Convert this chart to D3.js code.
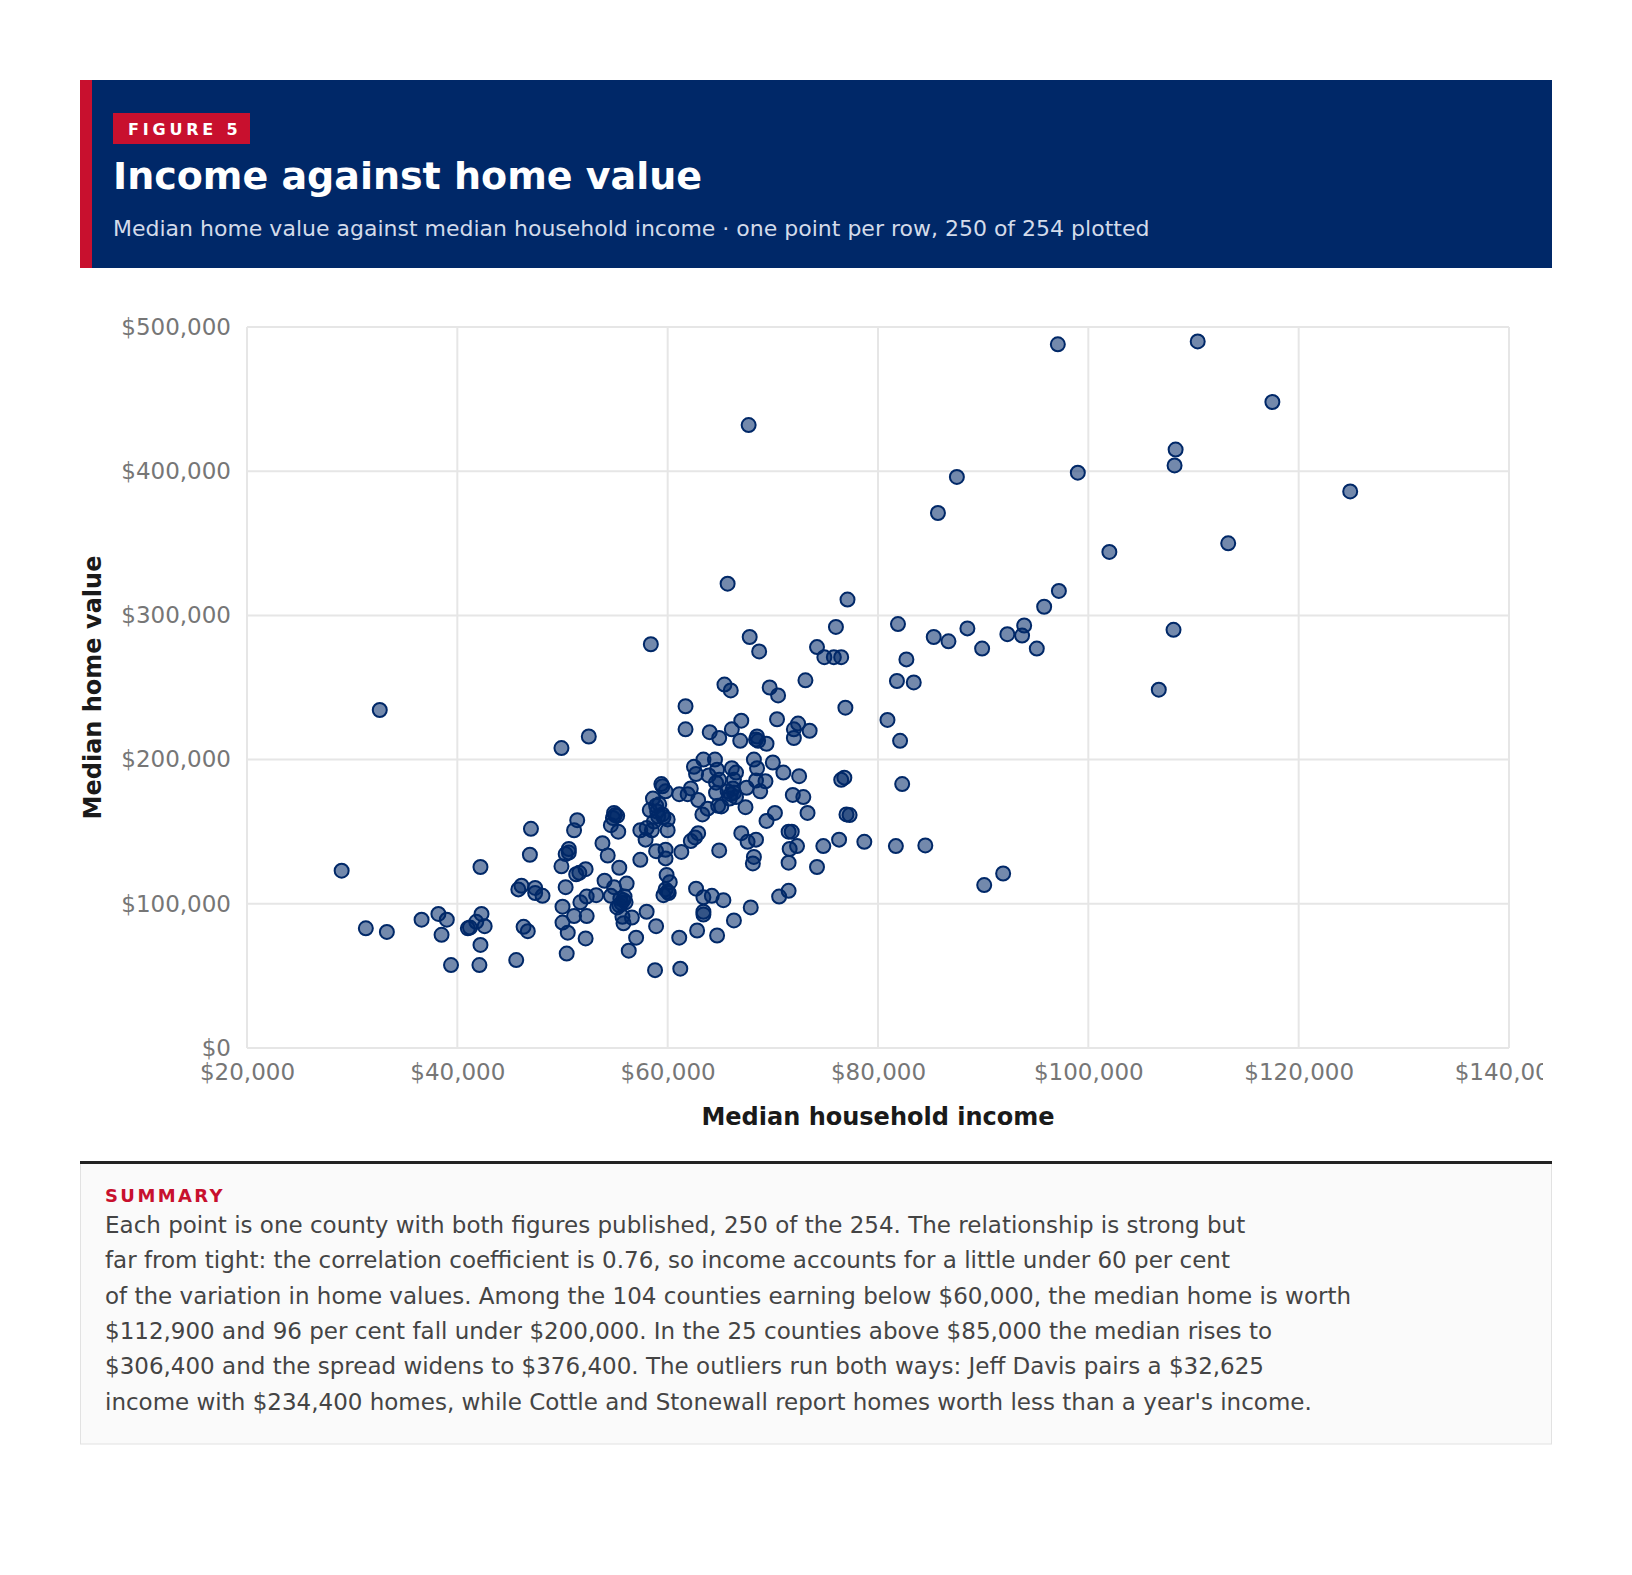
<!DOCTYPE html>
<html>
<head>
<meta charset="utf-8">
<script src="https://cdn.jsdelivr.net/npm/d3@7"></script>
<style>
  body { margin: 0; background: #fff; }
  svg text { font-family: "DejaVu Sans", sans-serif; }
</style>
</head>
<body>
<svg id="chart"></svg>
<script>
// median household income, dollars (one per county)
const income = [
  97100, 110400, 117500, 67700, 108300, 108200, 87500, 99000, 124900, 85700,
  102000, 113300, 65700, 97200, 77100, 95800, 81900, 76000, 93900, 88500,
  108100, 92300, 93700, 67800, 85300, 86700, 58400, 74200, 89900, 95100,
  68700, 74900, 75800, 76500, 82700, 73100, 81800, 83400, 65400, 66000,
  106700, 69700, 70500, 61700, 76900, 32625, 67000, 80900, 70400, 72400,
  61700, 66100, 72000, 73500, 64000, 68500, 68400, 64900, 72000, 52500,
  66900, 82100, 49900, 69400, 64500, 63400, 68200, 70000, 62500, 64700,
  66100, 68500, 66500, 71000, 62700, 63900, 72500, 76800, 76500, 64900,
  66300, 68400, 69300, 82300, 59400, 59500, 62200, 66200, 67500, 59800,
  68800, 61900, 61100, 64600, 66000, 66500, 71900, 72900, 58600, 62900,
  65900, 58900, 59200, 64800, 65100, 67400, 63800, 58300, 55000, 55200,
  54800, 59600, 59100, 51400, 63300, 77000, 77300, 70200, 73300, 58700,
  69400, 58000, 58500, 54600, 60000, 47000, 51100, 57400, 55300, 71500,
  71800, 67000, 62900, 62600, 57900, 68400, 76300, 67600, 78700, 53800,
  62200, 84500, 81700, 74800, 72300, 71600, 59800, 58900, 64900, 50300,
  61300, 46900, 50600, 54300, 68200, 59800, 57400, 68100, 71500, 74200,
  42200, 55400, 49900, 52200, 29000, 51600, 51300, 59900, 91900, 54000,
  60200, 56100, 54900, 90100, 45800, 47400, 50300, 46100, 62700, 71500,
  60000, 60100, 48100, 47400, 53200, 52300, 54600, 70600, 63400, 64200,
  59600, 65300, 55800, 55600, 55400, 51700, 50000, 55200, 67900, 58000,
  63400, 63400, 38200, 42300, 51100, 52300, 56600, 55700, 39000, 36600,
  66300, 50000, 41800, 55800, 41000, 41200, 46300, 42600, 58900, 31300,
  46700, 33300, 62800, 50500, 38500, 64700, 52200, 57000, 61100, 42200,
  56300, 50400, 45600, 39400, 42100, 58800, 61200, 59500, 59000, 60000,
  65700, 66300, 55500, 55900, 54900, 59800, 56000, 64600, 68600, 50600
];

// median home value, dollars (same order as income)
const homeValue = [
  488000, 490000, 448000, 432000, 415000, 404000, 396000, 399000, 386000, 371000,
  344000, 350000, 322000, 317000, 311000, 306000, 294000, 292000, 293000, 291000,
  290000, 287000, 286000, 285000, 285000, 282000, 280000, 278000, 277000, 277000,
  275000, 271000, 271000, 271000, 269500, 255000, 254500, 253500, 252000, 248000,
  248500, 250000, 244500, 237000, 236000, 234400, 227000, 227500, 228000, 225000,
  221000, 221000, 221000, 220000, 219000, 216000, 214000, 215000, 215000, 216000,
  213000, 213000, 208000, 211000, 200000, 200000, 200000, 198000, 195000, 193000,
  194000, 194000, 191000, 191000, 190000, 189000, 188500, 187500, 186000, 186000,
  186000, 185500, 185000, 183000, 183000, 181500, 180000, 180000, 180500, 178000,
  178000, 176000, 176000, 177000, 176000, 174000, 175500, 174000, 173000, 172000,
  173000, 168000, 169000, 168000, 167500, 167000, 166000, 165000, 161500, 161000,
  159500, 160000, 160500, 158000, 162000, 162000, 161500, 163000, 163000, 157000,
  157500, 152500, 151000, 154500, 151000, 152000, 151000, 151000, 150000, 150000,
  150000, 149000, 149000, 146000, 144500, 144500, 144500, 143000, 143000, 142000,
  143500, 140500, 140000, 140000, 140000, 138000, 137500, 136500, 137000, 134500,
  136000, 134000, 138000, 133500, 132500, 131500, 130500, 128000, 128500, 125500,
  125500, 125000, 126000, 124000, 123000, 121500, 120500, 120000, 121000, 116000,
  115000, 114000, 111500, 113000, 110000, 111000, 111500, 112500, 110500, 109000,
  108500, 107500, 105500, 107500, 106000, 105000, 105500, 105000, 104500, 105500,
  106000, 102500, 102500, 100500, 99000, 101000, 98000, 97500, 97500, 94500,
  94500, 92500, 93000, 93000, 91500, 91500, 90500, 91000, 89000, 89000,
  88500, 87000, 87500, 86500, 83000, 83500, 84000, 84500, 84500, 83000,
  81000, 80500, 81500, 80000, 78500, 78000, 76000, 76500, 76500, 71500,
  67500, 65500, 61000, 57500, 57500, 54000, 55000, 162000, 164000, 158500,
  178000, 177000, 103500, 105000, 163000, 110000, 101000, 184000, 213000, 135500
];

const xTicks = [20000, 40000, 60000, 80000, 100000, 120000, 140000];
const yTicks = [0, 100000, 200000, 300000, 400000, 500000];

const summaryLines = [
  "Each point is one county with both figures published, 250 of the 254. The relationship is strong but",
  "far from tight: the correlation coefficient is 0.76, so income accounts for a little under 60 per cent",
  "of the variation in home values. Among the 104 counties earning below $60,000, the median home is worth",
  "$112,900 and 96 per cent fall under $200,000. In the 25 counties above $85,000 the median rises to",
  "$306,400 and the spread widens to $376,400. The outliers run both ways: Jeff Davis pairs a $32,625",
  "income with $234,400 homes, while Cottle and Stonewall report homes worth less than a year's income."
];

const W = 1632, H = 1575;
const navy = "#002868", red = "#c8102e";

const svg = d3.select("#chart").attr("width", W).attr("height", H);

// header band
svg.append("rect").attr("x", 80).attr("y", 80).attr("width", 1472).attr("height", 188).attr("fill", navy);
svg.append("rect").attr("x", 80).attr("y", 80).attr("width", 12).attr("height", 188).attr("fill", red);
svg.append("rect").attr("x", 113).attr("y", 113).attr("width", 137).attr("height", 31).attr("fill", red);
svg.append("text").attr("x", 128).attr("y", 135)
  .style("font-size", "16px").style("font-weight", "bold").style("letter-spacing", "3.8px")
  .attr("fill", "#fff").text("FIGURE 5");
svg.append("text").attr("x", 113).attr("y", 189)
  .style("font-size", "38px").style("font-weight", "bold")
  .attr("fill", "#fff").text("Income against home value");
svg.append("text").attr("x", 113).attr("y", 236)
  .style("font-size", "22px").attr("fill", "#d3dbea")
  .text("Median home value against median household income · one point per row, 250 of 254 plotted");

// plot
const margin = { left: 247, top: 327, right: 1509, bottom: 1048 };
const x = d3.scaleLinear().domain([20000, 140000]).range([margin.left, margin.right]);
const y = d3.scaleLinear().domain([0, 500000]).range([margin.bottom, margin.top]);
const money = d3.format("$,");

svg.append("defs").append("clipPath").attr("id", "cut")
  .append("rect").attr("x", 0).attr("y", 0).attr("width", 1543).attr("height", H);

const g = svg.append("g").attr("clip-path", "url(#cut)");

g.append("g").selectAll("line").data(xTicks).join("line")
  .attr("x1", d => x(d)).attr("x2", d => x(d))
  .attr("y1", margin.top).attr("y2", margin.bottom)
  .attr("stroke", "#e6e6e6").attr("stroke-width", 2);
g.append("g").selectAll("line").data(yTicks).join("line")
  .attr("x1", margin.left).attr("x2", margin.right)
  .attr("y1", d => y(d)).attr("y2", d => y(d))
  .attr("stroke", "#e6e6e6").attr("stroke-width", 2);

const xAxis = g.append("g").attr("transform", `translate(0,${margin.bottom})`)
  .call(d3.axisBottom(x).tickValues(xTicks).tickFormat(money).tickSize(0).tickPadding(16));
const yAxis = g.append("g").attr("transform", `translate(${margin.left},0)`)
  .call(d3.axisLeft(y).tickValues(yTicks).tickFormat(money).tickSize(0).tickPadding(16));
[xAxis, yAxis].forEach(a => {
  a.select(".domain").remove();
  a.selectAll("text").attr("fill", "#767676").style("font-size", "23px")
    .style("font-family", "DejaVu Sans, sans-serif");
});

g.append("text").attr("x", (margin.left + margin.right) / 2).attr("y", 1125)
  .attr("text-anchor", "middle").style("font-size", "24px").style("font-weight", "bold")
  .attr("fill", "#1a1a1a").text("Median household income");
g.append("text").attr("transform", `translate(101,${(margin.top + margin.bottom) / 2}) rotate(-90)`)
  .attr("text-anchor", "middle").style("font-size", "24px").style("font-weight", "bold")
  .attr("fill", "#1a1a1a").text("Median home value");

const points = income.map((d, i) => ({ inc: d, val: homeValue[i] }));
g.append("g").selectAll("circle").data(points).join("circle")
  .attr("cx", d => x(d.inc)).attr("cy", d => y(d.val)).attr("r", 7)
  .attr("fill", navy).attr("fill-opacity", 0.55)
  .attr("stroke", navy).attr("stroke-width", 2);

// summary box
svg.append("rect").attr("x", 80.5).attr("y", 1162).attr("width", 1471).attr("height", 282)
  .attr("fill", "#fafafa").attr("stroke", "#e2e2e2");
svg.append("rect").attr("x", 80).attr("y", 1161).attr("width", 1472).attr("height", 3).attr("fill", "#222");
svg.append("text").attr("x", 105).attr("y", 1202)
  .style("font-size", "18px").style("font-weight", "bold").style("letter-spacing", "2.4px")
  .attr("fill", red).text("SUMMARY");
svg.append("g").selectAll("text").data(summaryLines).join("text")
  .attr("x", 105).attr("y", (d, i) => 1233 + i * 35.3)
  .style("font-size", "23px").attr("fill", "#444").text(d => d);
</script>
</body>
</html>
